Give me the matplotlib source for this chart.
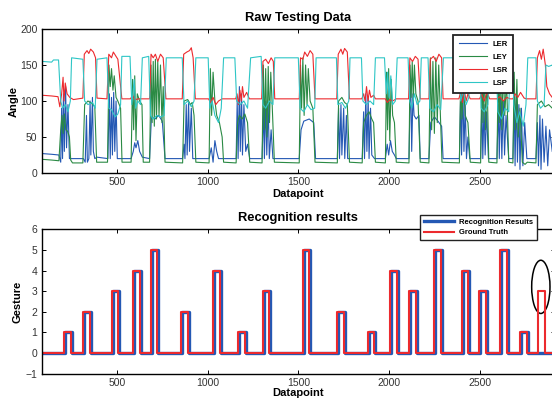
import matplotlib
matplotlib.use("Agg")
import matplotlib.pyplot as plt
from matplotlib.patches import Ellipse

plt.rcParams['font.family'] = ['Liberation Sans', 'DejaVu Sans']

# ---- raw testing data: (datapoint, angle) vertices ----
ler = [(88, 27), (140, 26), (180, 25), (190, 15), (195, 90), (200, 20), (205, 110), (210, 30), (217, 120), (222, 35), (230, 95), (238, 20), (250, 20),
       (315, 20), (325, 15), (332, 80), (337, 15), (345, 20), (352, 100), (356, 25), (365, 105), (370, 30), (378, 20), (390, 22),
       (450, 20), (458, 110), (463, 20), (470, 105), (475, 25), (482, 112), (488, 30), (495, 100), (502, 20), (510, 20),
       (578, 20), (590, 30), (598, 42), (605, 35), (615, 45), (625, 30), (640, 22),
       (680, 20), (690, 78), (710, 75), (730, 80), (750, 72), (765, 20),
       (862, 20), (870, 40), (875, 20), (882, 95), (887, 25), (895, 100), (900, 30), (910, 90), (918, 20), (930, 20),
       (1008, 20), (1020, 35), (1030, 15), (1040, 45), (1050, 30), (1060, 20), (1088, 20),
       (1157, 20), (1163, 100), (1168, 20), (1175, 120), (1180, 30), (1187, 110), (1192, 25), (1200, 95), (1210, 30), (1220, 40), (1232, 20),
       (1300, 20), (1308, 90), (1313, 20), (1320, 100), (1326, 25), (1334, 95), (1340, 20), (1350, 60), (1360, 20),
       (1505, 20), (1515, 60), (1530, 72), (1560, 75), (1585, 70), (1595, 20),
       (1715, 20), (1722, 90), (1727, 20), (1735, 95), (1740, 25), (1750, 90), (1756, 20), (1765, 80), (1772, 20),
       (1852, 20), (1860, 85), (1865, 20), (1872, 110), (1878, 30), (1885, 105), (1890, 20), (1898, 90), (1905, 25), (1920, 20),
       (1980, 20), (1990, 40), (1998, 25), (2008, 45), (2018, 30), (2030, 25), (2040, 20),
       (2110, 20), (2116, 100), (2120, 125), (2125, 30), (2132, 110), (2138, 80), (2150, 75), (2165, 80), (2172, 20),
       (2220, 20), (2230, 70), (2250, 78), (2270, 72), (2290, 65), (2298, 20),
       (2388, 20), (2395, 110), (2400, 25), (2407, 125), (2413, 30), (2420, 95), (2427, 20), (2435, 50), (2445, 20),
       (2505, 20), (2512, 100), (2517, 20), (2524, 95), (2530, 25), (2538, 85), (2548, 20),
       (2595, 20), (2603, 95), (2608, 20), (2615, 105), (2622, 20), (2630, 100), (2637, 25), (2645, 80), (2660, 20),
       (2683, 20), (2690, 100), (2695, 10), (2702, 110), (2708, 15), (2716, 95), (2722, 5), (2730, 90), (2738, 10), (2748, 70), (2760, 20),
       (2810, 20), (2818, 70), (2824, 10), (2832, 80), (2838, 5), (2846, 75), (2855, 15), (2865, 65), (2875, 10), (2885, 60), (2900, 30)]

ley = [(88, 19), (140, 18), (180, 17), (190, 60), (197, 80), (203, 55), (210, 82), (218, 60), (228, 58), (238, 50), (245, 18), (255, 14),
       (312, 14), (322, 95), (340, 100), (360, 97), (378, 92), (388, 15),
       (448, 15), (456, 150), (463, 120), (470, 145), (478, 115), (485, 135), (495, 105), (505, 100), (520, 90), (528, 15),
       (578, 15), (586, 130), (592, 60), (598, 135), (605, 45), (612, 110), (625, 100), (638, 95), (645, 15),
       (680, 15), (688, 150), (694, 70), (700, 155), (706, 65), (712, 158), (718, 75), (725, 155), (732, 80), (740, 150), (748, 70), (755, 120), (765, 15),
       (862, 14), (870, 100), (890, 102), (905, 95), (915, 98), (925, 80), (935, 15),
       (1008, 14), (1015, 145), (1022, 80), (1030, 140), (1040, 100), (1050, 80), (1065, 70), (1080, 50), (1088, 15),
       (1157, 14), (1165, 70), (1175, 80), (1190, 75), (1205, 82), (1220, 70), (1232, 15),
       (1300, 14), (1307, 150), (1313, 60), (1320, 145), (1327, 50), (1334, 148), (1341, 70), (1348, 140), (1355, 100), (1368, 15),
       (1505, 14), (1512, 150), (1518, 90), (1525, 160), (1532, 80), (1540, 150), (1548, 95), (1555, 145), (1565, 100), (1580, 90), (1592, 15),
       (1715, 14), (1722, 100), (1740, 105), (1755, 98), (1770, 95), (1782, 15),
       (1852, 14), (1860, 70), (1875, 80), (1890, 85), (1905, 75), (1915, 70), (1925, 15),
       (1980, 14), (1986, 140), (1992, 60), (1998, 145), (2004, 45), (2012, 130), (2020, 80), (2030, 70), (2040, 15),
       (2110, 14), (2116, 150), (2122, 105), (2128, 155), (2134, 100), (2140, 150), (2148, 110), (2160, 100), (2172, 15),
       (2220, 14), (2228, 160), (2235, 60), (2242, 155), (2250, 55), (2258, 160), (2266, 70), (2274, 150), (2282, 90), (2292, 15),
       (2388, 14), (2395, 130), (2402, 75), (2410, 125), (2420, 80), (2435, 70), (2448, 15),
       (2505, 14), (2512, 150), (2518, 70), (2525, 150), (2532, 60), (2540, 140), (2550, 15),
       (2595, 14), (2602, 145), (2608, 70), (2615, 150), (2622, 60), (2630, 150), (2638, 80), (2648, 130), (2660, 15),
       (2683, 14), (2690, 140), (2697, 60), (2705, 130), (2712, 50), (2722, 90), (2735, 15), (2750, 12), (2762, 15),
       (2810, 14), (2818, 95), (2840, 100), (2860, 92), (2880, 95), (2900, 90)]

lsr = [(88, 108), (140, 107), (175, 106), (185, 92), (195, 110), (203, 133), (208, 100), (215, 125), (225, 110), (240, 105), (260, 102),
       (312, 104), (320, 165), (335, 170), (345, 166), (355, 172), (370, 168), (382, 160), (390, 104),
       (445, 103), (455, 165), (470, 160), (480, 168), (495, 162), (505, 158), (520, 120), (527, 103),
       (575, 103), (585, 108), (600, 102), (620, 103),
       (680, 103), (688, 165), (700, 160), (712, 165), (725, 155), (740, 165), (755, 160), (770, 103),
       (860, 103), (868, 165), (885, 168), (900, 170), (910, 174), (920, 160), (932, 103),
       (1005, 103), (1015, 98), (1030, 105), (1045, 95), (1060, 100), (1080, 103),
       (1155, 103), (1162, 110), (1170, 95), (1178, 115), (1185, 100), (1192, 120), (1200, 105), (1215, 112), (1230, 103),
       (1298, 103), (1305, 155), (1320, 158), (1335, 152), (1350, 160), (1362, 155), (1370, 103),
       (1505, 103), (1512, 160), (1525, 158), (1535, 168), (1550, 162), (1565, 170), (1580, 165), (1592, 103),
       (1712, 103), (1720, 165), (1735, 172), (1745, 165), (1755, 173), (1770, 168), (1782, 103),
       (1850, 103), (1860, 110), (1868, 100), (1876, 120), (1884, 100), (1892, 115), (1900, 105), (1915, 108), (1925, 103),
       (1980, 103), (1990, 98), (2005, 102), (2020, 100), (2040, 103),
       (2108, 103), (2115, 160), (2130, 155), (2145, 162), (2160, 158), (2172, 103),
       (2220, 103), (2228, 158), (2245, 162), (2260, 155), (2275, 165), (2290, 160), (2298, 103),
       (2385, 103), (2395, 112), (2405, 98), (2415, 115), (2425, 100), (2435, 110), (2448, 103),
       (2500, 103), (2510, 110), (2525, 100), (2540, 112), (2555, 103),
       (2595, 103), (2610, 106), (2630, 100), (2650, 105), (2668, 103),
       (2683, 103), (2695, 110), (2710, 105), (2725, 112), (2745, 104), (2760, 103),
       (2810, 103), (2818, 160), (2830, 170), (2840, 158), (2850, 172), (2862, 150), (2870, 120), (2885, 110), (2900, 105)]

lsp = [(88, 155), (140, 154), (150, 157), (178, 157),
       (190, 100), (200, 90), (215, 95), (230, 85), (243, 100), (250, 160),
       (312, 158), (322, 100), (340, 95), (365, 98), (380, 90), (390, 158),
       (445, 160), (455, 90), (470, 88), (490, 78), (505, 82), (520, 95), (527, 162),
       (572, 162), (582, 95), (595, 130), (602, 90), (615, 100), (630, 95), (640, 160),
       (675, 162), (685, 80), (700, 75), (720, 80), (740, 78), (760, 80), (772, 160),
       (860, 160), (870, 95), (890, 100), (910, 92), (925, 100), (935, 160),
       (1003, 160), (1012, 90), (1025, 100), (1040, 80), (1060, 70), (1075, 90), (1088, 160),
       (1150, 160), (1160, 100), (1180, 95), (1200, 100), (1220, 90), (1237, 160),
       (1295, 162), (1305, 95), (1320, 90), (1340, 100), (1360, 95), (1370, 160),
       (1500, 160), (1510, 90), (1530, 85), (1550, 95), (1570, 88), (1590, 90), (1598, 160),
       (1710, 160), (1718, 95), (1740, 98), (1760, 90), (1778, 100), (1785, 160),
       (1848, 160), (1856, 100), (1875, 95), (1895, 100), (1915, 95), (1925, 160),
       (1975, 160), (1985, 110), (1992, 140), (2000, 105), (2010, 135), (2020, 95), (2035, 100), (2045, 160),
       (2105, 160), (2114, 100), (2125, 90), (2140, 110), (2155, 95), (2170, 100), (2178, 160),
       (2215, 160), (2225, 90), (2245, 85), (2265, 95), (2285, 88), (2300, 160),
       (2385, 160), (2395, 100), (2410, 115), (2425, 95), (2440, 105), (2450, 160),
       (2500, 160), (2508, 90), (2525, 85), (2545, 95), (2555, 160),
       (2590, 160), (2600, 85), (2620, 75), (2640, 90), (2660, 85), (2668, 160),
       (2680, 160), (2688, 95), (2705, 70), (2720, 85), (2740, 65), (2755, 95), (2765, 160),
       (2810, 160), (2818, 100), (2835, 90), (2855, 95), (2865, 150), (2880, 148), (2900, 150)]

# ---- recognition results: gesture pulses ----
pulse_start = [208, 314, 472, 590, 687, 853, 1031, 1169, 1305, 1524,
               1713, 1882, 2005, 2111, 2249, 2400, 2497, 2611, 2721, 2822]
pulse_end = [245, 351, 505, 627, 719, 890, 1068, 1206, 1340, 1560,
             1750, 1918, 2042, 2148, 2286, 2437, 2534, 2648, 2758, 2859]
truth_level = [1, 2, 3, 4, 5, 2, 4, 1, 3, 5, 2, 1, 4, 3, 5, 4, 3, 5, 1, 3]
recog_level = [1, 2, 3, 4, 5, 2, 4, 1, 3, 5, 2, 1, 4, 3, 5, 4, 3, 5, 1, 0]
recog_delay = 6

x_min, x_max = 85, 2915

series_names = ['LER', 'LEY', 'LSR', 'LSP']
series_colors = ['#2458b4', '#2a8a44', '#ec2a2e', '#2ec6c6']


def step_line(starts, ends, levels, shift=0):
    xs, ys = [x_min], [0]
    for s, e, lv in zip(starts, ends, levels):
        xs += [s + shift, s + shift, e + shift, e + shift]
        ys += [0, lv, lv, 0]
    xs.append(x_max)
    ys.append(0)
    return xs, ys


def style_axes(ax):
    ax.tick_params(direction='in', length=3, width=0.7, top=True, right=True,
                   labelsize=7.5, labelcolor='#333333', pad=3)
    for sp in ax.spines.values():
        sp.set_linewidth(1.0)
    ax.set_xlim(x_min, x_max)
    ax.set_xticks([500, 1000, 1500, 2000, 2500])


fig = plt.figure(figsize=(5.52, 3.99), dpi=100)

# top panel
ax1 = fig.add_axes([0.0755, 0.5664, 0.9299, 0.3609])
for pts, name, col in zip([ler, ley, lsr, lsp], series_names, series_colors):
    xs, ys = zip(*pts)
    ax1.plot(xs, ys, color=col, lw=0.8, label=name)
style_axes(ax1)
ax1.set_ylim(0, 200)
ax1.set_yticks([0, 50, 100, 150, 200])
ax1.set_title('Raw Testing Data', fontsize=9.3, fontweight='bold', pad=6)
ax1.set_xlabel('Datapoint', fontsize=8, fontweight='bold', labelpad=1)
ax1.set_ylabel('Angle', fontsize=8, fontweight='bold', labelpad=1)
leg1 = ax1.legend(loc='upper right', bbox_to_anchor=(513 / 552, 1 - 34.5 / 399),
                  bbox_transform=fig.transFigure, borderaxespad=0,
                  prop={'size': 5.5, 'weight': 'bold'}, handlelength=3.7,
                  labelspacing=0.75, borderpad=0.75, handletextpad=0.6,
                  fancybox=False, framealpha=1)
leg1.get_frame().set_edgecolor('#222222')
leg1.get_frame().set_linewidth(1.3)

# bottom panel
ax2 = fig.add_axes([0.0755, 0.0634, 0.9299, 0.3619])
bx, by = step_line(pulse_start, pulse_end, recog_level, recog_delay)
rx, ry = step_line(pulse_start, pulse_end, truth_level)
ax2.plot(bx, by, color='#2458b4', lw=2.4, label='Recognition Results')
ax2.plot(rx, ry, color='#ec2a2e', lw=1.5, label='Ground Truth')
style_axes(ax2)
ax2.set_ylim(-1, 6)
ax2.set_yticks(range(-1, 7))
ax2.set_yticklabels(['\u22121', '0', '1', '2', '3', '4', '5', '6'])
ax2.set_title('Recognition results', fontsize=9.3, fontweight='bold', pad=6)
ax2.set_xlabel('Datapoint', fontsize=8, fontweight='bold', labelpad=0)
ax2.set_ylabel('Gesture', fontsize=8, fontweight='bold', labelpad=2)
ax2.add_patch(Ellipse((2837, 3.21), 101, 2.58, fill=False, edgecolor='black', lw=1.1))
leg2 = ax2.legend(loc='upper right', bbox_to_anchor=(537 / 552, 1 - 215 / 399),
                  bbox_transform=fig.transFigure, borderaxespad=0,
                  prop={'size': 5.5, 'weight': 'bold'}, handlelength=4.0,
                  labelspacing=0.35, borderpad=0.5, handletextpad=0.6,
                  fancybox=False, framealpha=1)
leg2.get_frame().set_edgecolor('#222222')
leg2.get_frame().set_linewidth(1.0)

fig.savefig('out.png', dpi=100)
